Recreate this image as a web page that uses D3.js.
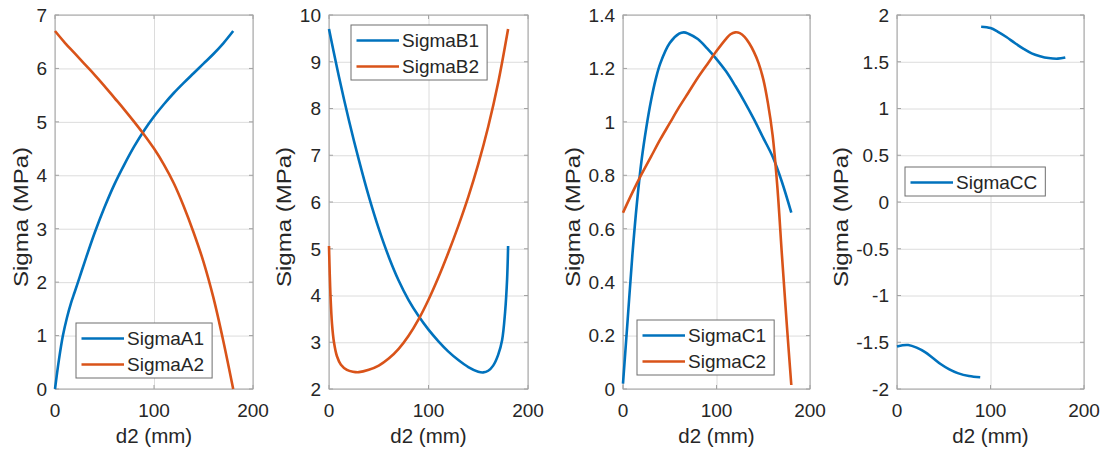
<!DOCTYPE html>
<html>
<head>
<meta charset="utf-8">
<script src="https://cdn.jsdelivr.net/npm/d3@7"></script>
<style>
  body { margin: 0; background: #fff; }
  svg text { font-family: "Liberation Sans", Arial, Helvetica, sans-serif; fill: #262626; }
</style>
</head>
<body>
<svg id="chart" width="1105" height="450"></svg>
<script>
// readings, each point is [d2 (mm), sigma (MPa)]
const sigmaA1 = [[0, 0], [4, 0.55], [8, 1.0], [12, 1.33], [16, 1.6], [20, 1.82], [25, 2.1], [30, 2.38], [40, 2.92],
                 [50, 3.4], [60, 3.83], [70, 4.2], [80, 4.54], [90, 4.84], [100, 5.1], [110, 5.33], [120, 5.54],
                 [130, 5.73], [140, 5.91], [150, 6.09], [160, 6.27], [170, 6.47], [180, 6.7]];
const sigmaA2 = [[0, 6.7], [10, 6.48], [20, 6.28], [30, 6.08], [40, 5.88], [50, 5.67], [60, 5.45], [70, 5.23],
                 [80, 5.0], [90, 4.76], [100, 4.5], [110, 4.2], [120, 3.85], [130, 3.42], [140, 2.93], [150, 2.38],
                 [160, 1.71], [170, 0.9], [180, 0]];

const sigmaB1 = [[0, 9.7], [10, 8.68], [20, 7.75], [30, 6.9], [40, 6.12], [50, 5.43], [60, 4.83], [70, 4.32],
                 [80, 3.9], [90, 3.56], [100, 3.27], [110, 3.02], [120, 2.8], [130, 2.62], [140, 2.47], [150, 2.37],
                 [155, 2.355], [160, 2.39], [165, 2.5], [170, 2.73], [174, 3.05], [177, 3.65], [179, 4.35], [180, 5.06]];
const sigmaB2 = [[0, 5.06], [0.7, 4.5], [1.5, 4], [3, 3.4], [5, 3.0], [8, 2.7], [12, 2.52], [18, 2.41], [24, 2.37],
                 [30, 2.36], [40, 2.41], [50, 2.5], [60, 2.65], [70, 2.86], [80, 3.14], [90, 3.49], [100, 3.91],
                 [110, 4.39], [120, 4.92], [130, 5.49], [140, 6.11], [150, 6.81], [160, 7.61], [170, 8.55], [180, 9.7]];

const sigmaC1 = [[0, 0.02], [5, 0.26], [10, 0.5], [15, 0.7], [20, 0.86], [25, 0.98], [30, 1.08], [35, 1.16],
                 [40, 1.22], [50, 1.295], [60, 1.33], [65, 1.335], [70, 1.33], [80, 1.31], [90, 1.275], [100, 1.235],
                 [110, 1.19], [120, 1.135], [130, 1.075], [140, 1.01], [150, 0.94], [160, 0.87], [170, 0.775], [180, 0.66]];
const sigmaC2 = [[0, 0.66], [10, 0.735], [20, 0.805], [30, 0.87], [40, 0.935], [50, 0.995], [60, 1.055], [70, 1.11],
                 [80, 1.165], [90, 1.215], [100, 1.265], [110, 1.31], [115, 1.328], [120, 1.335], [125, 1.332],
                 [130, 1.318], [135, 1.294], [140, 1.262], [145, 1.22], [150, 1.16], [155, 1.07], [160, 0.95],
                 [165, 0.76], [170, 0.5], [175, 0.25], [180, 0.015]];

// two branches, null marks the jump at d2 = 90
const sigmaCC = [[0, -1.545], [6, -1.532], [12, -1.53], [21, -1.558], [30, -1.605], [38, -1.665], [47, -1.735],
                 [56, -1.79], [65, -1.83], [77, -1.862], [89, -1.875], [89.5, null],
                 [90, 1.875], [100, 1.86], [108, 1.82], [117, 1.765], [126, 1.7], [135, 1.64], [144, 1.59],
                 [153, 1.56], [162, 1.54], [172, 1.533], [180, 1.545]];

const xTicks = [0, 100, 200];
const yTicksA = [0, 1, 2, 3, 4, 5, 6, 7];
const yTicksB = [2, 3, 4, 5, 6, 7, 8, 9, 10];
const yTicksC = [0, 0.2, 0.4, 0.6, 0.8, 1, 1.2, 1.4];
const yTicksCC = [-2, -1.5, -1, -0.5, 0, 0.5, 1, 1.5, 2];

const colors = ["#0072BD", "#D95319"];

var panels = [
    {left: 55,  right: 253,  yDomain: [0, 7],   yTicks: yTicksA,  series: [sigmaA1, sigmaA2], names: ["SigmaA1", "SigmaA2"], legend: [76, 323]},
    {left: 329, right: 528,  yDomain: [2, 10],  yTicks: yTicksB,  series: [sigmaB1, sigmaB2], names: ["SigmaB1", "SigmaB2"], legend: [351, 25]},
    {left: 623, right: 810,  yDomain: [0, 1.4], yTicks: yTicksC,  series: [sigmaC1, sigmaC2], names: ["SigmaC1", "SigmaC2"], legend: [637, 320]},
    {left: 897, right: 1084, yDomain: [-2, 2],  yTicks: yTicksCC, series: [sigmaCC],          names: ["SigmaCC"],            legend: [905, 167]}
];
var plotTop = 15, plotBottom = 389;

var svg = d3.select("#chart");
var fmt = function (d) { return String(+d.toFixed(2)); };   // matlab style: 0.5, -1, 1.4

panels.forEach(function (p) {
    var x = d3.scaleLinear().domain([0, 200]).range([p.left, p.right]);
    var y = d3.scaleLinear().domain(p.yDomain).range([plotBottom, plotTop]);
    var g = svg.append("g");

    // grid
    g.append("g")
        .attr("transform", "translate(0," + plotBottom + ")")
        .call(d3.axisBottom(x).tickValues(xTicks).tickSize(-(plotBottom - plotTop)).tickFormat(""))
        .call(function (s) { s.select(".domain").remove(); });
    g.append("g")
        .attr("transform", "translate(" + p.left + ",0)")
        .call(d3.axisLeft(y).tickValues(p.yTicks).tickSize(-(p.right - p.left)).tickFormat(""))
        .call(function (s) { s.select(".domain").remove(); });
    g.selectAll(".tick line").attr("stroke", "#dcdcdc").attr("stroke-width", 1);

    // box
    g.append("rect")
        .attr("x", p.left).attr("y", plotTop)
        .attr("width", p.right - p.left).attr("height", plotBottom - plotTop)
        .attr("fill", "none").attr("stroke", "#a3a3a3").attr("stroke-width", 1);

    // inward tick marks
    xTicks.forEach(function (t) {
        g.append("line").attr("x1", x(t)).attr("x2", x(t)).attr("y1", plotBottom).attr("y2", plotBottom - 4).attr("stroke", "#a3a3a3");
        g.append("line").attr("x1", x(t)).attr("x2", x(t)).attr("y1", plotTop).attr("y2", plotTop + 4).attr("stroke", "#a3a3a3");
    });
    p.yTicks.forEach(function (t) {
        g.append("line").attr("x1", p.left).attr("x2", p.left + 4).attr("y1", y(t)).attr("y2", y(t)).attr("stroke", "#a3a3a3");
        g.append("line").attr("x1", p.right).attr("x2", p.right - 4).attr("y1", y(t)).attr("y2", y(t)).attr("stroke", "#a3a3a3");
    });

    // tick labels
    g.selectAll(".xlab")
        .data(xTicks).enter()
        .append("text")
        .attr("x", function (d) { return x(d); })
        .attr("y", 417)
        .attr("text-anchor", "middle")
        .style("font-size", "19px")
        .text(fmt);
    var ylabs = g.selectAll(".ylab")
        .data(p.yTicks).enter()
        .append("text")
        .attr("x", p.left - 8)
        .attr("y", function (d) { return y(d); })
        .attr("dy", "0.36em")
        .attr("text-anchor", "end")
        .style("font-size", "19px")
        .text(fmt);

    var maxW = 0;
    ylabs.each(function () { maxW = Math.max(maxW, this.getComputedTextLength()); });

    // axis titles
    g.append("text")
        .attr("x", (p.left + p.right) / 2)
        .attr("y", 443)
        .attr("text-anchor", "middle")
        .style("font-size", "20.5px")
        .text("d2 (mm)");
    g.append("text")
        .attr("transform", "translate(" + (p.left - maxW - 16.5) + "," + 217 + ") rotate(-90)")
        .attr("text-anchor", "middle")
        .attr("textLength", 140)
        .attr("lengthAdjust", "spacingAndGlyphs")
        .style("font-size", "20.5px")
        .text("Sigma (MPa)");

    // curves
    var line = d3.line()
        .defined(function (d) { return d[1] !== null; })
        .x(function (d) { return x(d[0]); })
        .y(function (d) { return y(d[1]); })
        .curve(d3.curveCatmullRom.alpha(0.5));

    p.series.forEach(function (s, i) {
        g.append("path")
            .datum(s)
            .attr("d", line)
            .attr("fill", "none")
            .attr("stroke", colors[i])
            .attr("stroke-width", 2.6)
            .attr("stroke-linejoin", "round");
    });

    // legend
    var lx = p.legend[0], ly = p.legend[1];
    var lg = g.append("g");
    var box = lg.append("rect")
        .attr("x", lx).attr("y", ly)
        .attr("height", 26 * p.names.length + 3)
        .attr("fill", "#fff").attr("stroke", "#6e6e6e").attr("stroke-width", 1);
    var tw = 0;
    p.names.forEach(function (n, i) {
        var cy = ly + 15.5 + 26 * i;
        lg.append("line")
            .attr("x1", lx + 5.5).attr("x2", lx + 48)
            .attr("y1", cy).attr("y2", cy)
            .attr("stroke", colors[i]).attr("stroke-width", 2.6);
        var t = lg.append("text")
            .attr("x", lx + 51).attr("y", cy).attr("dy", "0.36em")
            .style("font-size", "19px")
            .text(n);
        tw = Math.max(tw, t.node().getComputedTextLength());
    });
    box.attr("width", 51 + tw + 8);
});
</script>
</body>
</html>
